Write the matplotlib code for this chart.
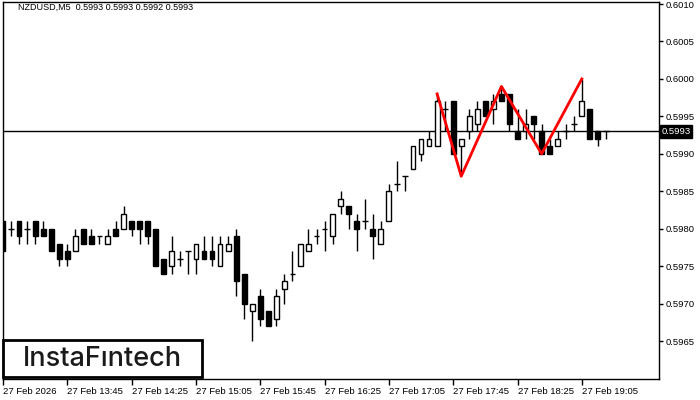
import numpy as np
import matplotlib
matplotlib.use("Agg")
import matplotlib.pyplot as plt
from matplotlib.patches import Rectangle
from matplotlib.transforms import blended_transform_factory

plt.rcParams["font.family"] = ["Liberation Sans", "DejaVu Sans"]

# NZDUSD M5 candles, prices (4 digits)
opens = [0.5981, 0.5980, 0.5981, 0.5980, 0.5981, 0.5980, 0.5980, 0.5978, 0.5977, 0.5977,
         0.5980, 0.5979, 0.5979, 0.5978, 0.5980, 0.5980, 0.5981, 0.5981, 0.5981, 0.5980,
         0.5976, 0.5975, 0.5976, 0.5977, 0.5976, 0.5977, 0.5977, 0.5975, 0.5977, 0.5979,
         0.5974, 0.5969, 0.5971, 0.5969, 0.5968, 0.5972, 0.5974, 0.5975, 0.5977, 0.5979,
         0.5980, 0.5979, 0.5983, 0.5983, 0.5981, 0.5981, 0.5980, 0.5978, 0.5981, 0.5986,
         0.5987, 0.5988, 0.5990, 0.5991, 0.5991, 0.5996, 0.5997, 0.5991, 0.5993, 0.5994,
         0.5997, 0.5996, 0.5998, 0.5998, 0.5993, 0.5993, 0.5995, 0.5993, 0.5991, 0.5991,
         0.5993, 0.5994, 0.5995, 0.5996, 0.5993, 0.5993]
highs = [0.5981, 0.5981, 0.5981, 0.5981, 0.5981, 0.5981, 0.5980, 0.5978, 0.5978, 0.5980,
         0.5980, 0.5980, 0.5979, 0.5980, 0.5981, 0.5983, 0.5981, 0.5981, 0.5981, 0.5980,
         0.5976, 0.5979, 0.5977, 0.5977, 0.5978, 0.5979, 0.5979, 0.5979, 0.5979, 0.5980,
         0.5974, 0.5970, 0.5972, 0.5969, 0.5972, 0.5974, 0.5977, 0.5978, 0.5980, 0.5980,
         0.5981, 0.5982, 0.5985, 0.5983, 0.5982, 0.5984, 0.5982, 0.5981, 0.5986, 0.5989,
         0.5987, 0.5991, 0.5992, 0.5993, 0.5998, 0.5997, 0.5997, 0.5992, 0.5996, 0.5997,
         0.5997, 0.5998, 0.5999, 0.5998, 0.5996, 0.5996, 0.5995, 0.5994, 0.5992, 0.5993,
         0.5994, 0.5995, 0.6000, 0.5996, 0.5993, 0.5993]
lows = [0.5977, 0.5979, 0.5978, 0.5978, 0.5978, 0.5979, 0.5977, 0.5975, 0.5975, 0.5977,
        0.5978, 0.5978, 0.5978, 0.5978, 0.5979, 0.5980, 0.5979, 0.5978, 0.5978, 0.5975,
        0.5974, 0.5974, 0.5975, 0.5974, 0.5974, 0.5976, 0.5975, 0.5975, 0.5977, 0.5971,
        0.5968, 0.5965, 0.5967, 0.5967, 0.5967, 0.5970, 0.5973, 0.5975, 0.5977, 0.5978,
        0.5977, 0.5978, 0.5982, 0.5980, 0.5977, 0.5980, 0.5976, 0.5978, 0.5981, 0.5985,
        0.5985, 0.5988, 0.5989, 0.5991, 0.5991, 0.5993, 0.5990, 0.5987, 0.5992, 0.5993,
        0.5995, 0.5994, 0.5997, 0.5993, 0.5992, 0.5992, 0.5992, 0.5990, 0.5990, 0.5991,
        0.5992, 0.5993, 0.5995, 0.5992, 0.5991, 0.5992]
closes = [0.5977, 0.5980, 0.5979, 0.5980, 0.5979, 0.5979, 0.5977, 0.5976, 0.5976, 0.5979,
          0.5978, 0.5978, 0.5979, 0.5979, 0.5979, 0.5982, 0.5980, 0.5980, 0.5979, 0.5975,
          0.5974, 0.5977, 0.5976, 0.5977, 0.5978, 0.5976, 0.5976, 0.5978, 0.5978, 0.5973,
          0.5970, 0.5970, 0.5968, 0.5967, 0.5971, 0.5973, 0.5974, 0.5978, 0.5978, 0.5979,
          0.5980, 0.5982, 0.5984, 0.5982, 0.5980, 0.5981, 0.5979, 0.5980, 0.5985, 0.5986,
          0.5987, 0.5991, 0.5992, 0.5992, 0.5997, 0.5996, 0.5990, 0.5992, 0.5995, 0.5996,
          0.5995, 0.5997, 0.5997, 0.5994, 0.5992, 0.5994, 0.5994, 0.5990, 0.5990, 0.5992,
          0.5993, 0.5994, 0.5997, 0.5992, 0.5992, 0.5993]

# triple top pattern (candle index, price)
pattern_idx = [54, 57, 62, 67, 72]
pattern_px = [0.5998, 0.5987, 0.5999, 0.5990, 0.6000]

bid = 0.5993
x_labels = ["27 Feb 2026", "27 Feb 13:45", "27 Feb 14:25", "27 Feb 15:05", "27 Feb 15:45",
            "27 Feb 16:25", "27 Feb 17:05", "27 Feb 17:45", "27 Feb 18:25", "27 Feb 19:05"]
y_ticks = [0.5965, 0.5970, 0.5975, 0.5980, 0.5985, 0.5990, 0.5995, 0.6000, 0.6005, 0.6010]

o = np.array(opens); h = np.array(highs); l = np.array(lows); c = np.array(closes)
x = np.arange(len(o))

W, H = 700, 400
fig = plt.figure(figsize=(7, 4), dpi=100)
ax = fig.add_axes([3 / W, 1 - 379 / H, 656 / W, 377 / H])

ax.axhline(bid, color="black", lw=1, zorder=1)

ax.vlines(x, l, h, color="black", lw=1, zorder=2)
up = c > o
down = c < o
flat = c == o
bw = 0.6
ax.bar(x[up], (c - o)[up], bottom=o[up], width=bw, facecolor="white",
       edgecolor="black", lw=1, zorder=3)
ax.bar(x[down], (o - c)[down], bottom=c[down], width=bw, facecolor="black",
       edgecolor="black", lw=1, zorder=3)
ax.hlines(c[flat], x[flat] - bw / 2 - 0.06, x[flat] + bw / 2 + 0.06, color="black", lw=1, zorder=3)

ax.plot(pattern_idx, pattern_px, color="#ff0000", lw=2, zorder=5)

ax.set_xlim(0, 81.6)
ax.set_ylim(0.595993, 0.601027)

ax.yaxis.tick_right()
ax.set_yticks(y_ticks)
ax.set_yticklabels([f"{v:.4f}" for v in y_ticks])
ax.tick_params(axis="y", direction="out", length=3, width=1, pad=2, labelsize=6.8, colors="black")
ax.set_xticks(np.arange(0, 73, 8))
ax.set_xticklabels(x_labels, ha="left")
ax.tick_params(axis="x", direction="out", length=4, width=1, pad=1.5, labelsize=6.8)
for s in ax.spines.values():
    s.set_linewidth(1)
    s.set_color("black")

# current price tag
tr = blended_transform_factory(ax.transAxes, ax.transData)
ax.text(1.004, bid, "0.5993", transform=tr, ha="left", va="center", fontsize=6.8,
        color="white", bbox=dict(boxstyle="square,pad=0.18", fc="black", ec="black"),
        clip_on=False, zorder=10)

fig.text(18 / W, 1 - 7 / H, "NZDUSD,M5  0.5993 0.5993 0.5992 0.5993", fontsize=6.5,
         ha="left", va="center", color="black")

# logo box
fig.add_artist(Rectangle((3 / W, 1 - 377 / H), 199 / W, 37 / H, transform=fig.transFigure,
                         facecolor="white", edgecolor="black", lw=2, zorder=20))
fig.text(102 / W, 1 - 359 / H, "InstaF\u0131ntech", fontsize=19.5, family=["Inter", "DejaVu Sans"],
         weight="medium", ha="center", va="center", color="#1a1a1a", zorder=21)

fig.savefig("out.png", dpi=100)
